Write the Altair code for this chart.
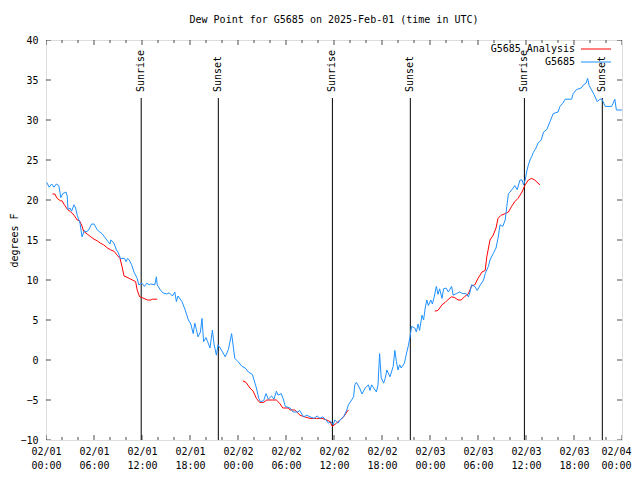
import altair as alt
import pandas as pd

FONT = "DejaVu Sans Mono"

# Observations G5685 (hours since 2025-02-01 00:00 UTC, dew point degF)
obs_hours = [0.1, 0.4, 0.7, 1.0, 1.3, 1.6, 1.75, 1.85, 2.1, 2.5, 2.65, 2.75, 3.0, 3.2, 3.5, 3.7, 3.9,
             4.25, 4.5, 4.8, 5.0, 5.3, 5.7, 6.0, 6.4, 6.7, 7.0, 7.3, 7.75, 8.0, 8.1, 8.5, 8.8, 9.0,
             9.3, 9.8, 10.0, 10.2, 10.4, 10.7, 11.0, 11.4, 11.6, 12.0, 12.3, 12.6, 12.9, 13.1, 13.6,
             13.8, 13.9, 14.3, 14.6, 15.1, 15.4, 15.8, 16.1, 16.3, 16.5, 17.0, 17.4, 17.8, 18.1, 18.4,
             18.6, 18.8, 19.0, 19.3, 19.5, 19.7, 20.0, 20.2, 20.5, 20.8, 21.0, 21.3, 21.5, 21.9, 22.4,
             22.8, 23.2, 23.6, 24.0, 24.5, 24.9, 25.3, 25.8, 26.3, 26.6, 26.8, 27.2, 27.5, 27.8, 28.2,
             28.5, 28.8, 29.0, 29.4, 29.7, 29.9, 30.5, 30.9, 31.5, 31.7, 32.2, 32.6, 33.0, 33.5, 33.9,
             34.25, 34.6, 35.0, 35.3, 35.6, 35.9, 36.1, 36.5, 36.75, 37.2, 37.6, 37.8, 38.2, 38.45,
             38.6, 38.8, 39.2, 39.5, 39.9, 40.3, 40.5, 40.7, 40.9, 41.3, 41.5, 41.7, 41.9, 42.2, 42.4,
             42.6, 43.0, 43.4, 43.6, 43.8, 44.0, 44.2, 44.4, 44.8, 45.1, 45.3, 45.5, 45.7, 46.1, 46.3,
             46.5, 46.7, 47.0, 47.2, 47.4, 47.6, 47.8, 48.1, 48.3, 48.5, 48.8, 49.0, 49.2, 49.5, 49.7,
             50.0, 50.3, 50.7, 50.9, 51.3, 51.7, 52.1, 52.5, 52.8, 53.0, 53.2, 53.6, 53.9, 54.3, 54.7,
             54.9, 55.3, 55.5, 55.9, 56.25, 56.5, 56.75, 57.1, 57.4, 57.6, 57.8, 58.0, 58.4, 58.6,
             58.9, 59.25, 59.5, 59.7, 59.9, 60.1, 60.3, 60.5, 60.7, 60.9, 61.2, 61.5, 61.9, 62.2,
             62.6, 63.0, 63.4, 64.0, 64.25, 64.6, 64.9, 65.7, 65.9, 66.3, 66.9, 67.2, 67.5, 67.7,
             67.9, 68.2, 68.5, 68.9, 69.25, 69.5, 69.9, 70.7, 70.9, 71.1, 71.3, 71.75, 72.0]
obs_vals = [22.2, 21.6, 22.0, 21.6, 22.0, 21.8, 20.9, 20.3, 20.8, 21.0, 20.5, 18.8, 19.0, 18.6, 19.4,
            19.0, 18.1, 17.1, 15.4, 16.2, 16.0, 16.2, 17.0, 17.0, 16.3, 16.0, 15.8, 15.4, 14.8, 14.5,
            15.0, 14.6, 13.75, 13.5, 12.7, 12.7, 12.3, 12.7, 12.5, 11.9, 11.0, 10.2, 9.4, 9.6, 9.2,
            9.6, 9.4, 9.5, 9.4, 10.4, 9.4, 8.75, 8.4, 8.25, 8.4, 8.0, 8.5, 7.3, 8.0, 7.3, 6.25, 5.0,
            4.5, 3.3, 4.6, 3.8, 2.9, 3.5, 5.2, 2.3, 2.8, 2.3, 1.5, 3.75, 2.0, 0.6, 1.9, 1.3, 0.4, 1.3,
            3.3, 0.2, -0.2, -0.8, -1.0, -1.5, -1.8, -3.5, -4.8, -5.2, -5.1, -4.2, -4.9, -4.5, -4.9,
            -3.9, -4.4, -4.2, -5.0, -5.8, -6.0, -6.5, -6.5, -6.3, -7.1, -6.9, -7.1, -7.3, -7.0, -7.3,
            -7.1, -7.5, -7.9, -7.7, -8.1, -7.5, -7.9, -7.5, -7.1, -6.25, -5.6, -5.0, -4.6, -3.1, -2.8,
            -3.5, -4.25, -3.5, -3.1, -3.8, -3.1, -3.4, -4.0, -3.1, 0.8, -2.2, -2.9, -2.3, -1.25, -2.1,
            -0.8, 1.2, -0.2, -1.25, -0.6, -1.0, -0.4, 1.0, 1.8, 2.9, 4.2, 4.0, 3.5, 4.5, 3.7, 5.6, 5.0,
            6.5, 7.5, 6.8, 7.5, 7.0, 7.8, 9.2, 8.2, 8.9, 7.7, 8.9, 9.0, 8.5, 9.2, 8.1, 8.3, 8.5, 8.3,
            8.3, 7.9, 8.5, 9.4, 9.2, 8.7, 9.4, 10.0, 10.8, 11.7, 12.5, 13.3, 14.0, 15.2, 16.9, 16.7,
            17.5, 19.2, 20.8, 21.0, 21.5, 21.8, 21.3, 22.5, 22.5, 21.9, 22.5, 23.6, 24.4, 25.0, 25.4,
            25.9, 26.4, 27.1, 27.5, 28.5, 28.8, 29.8, 30.8, 31.0, 31.7, 32.1, 32.6, 32.6, 33.3, 33.8,
            34.0, 34.4, 34.6, 35.2, 34.3, 33.75, 33.2, 32.3, 32.6, 32.6, 31.7, 31.7, 32.1, 32.6,
            31.25, 31.25, 31.25]

# Analysis G5685 (three separate runs)
ana1_hours = [0.8, 1.1, 1.4, 1.8, 2.0, 2.3, 2.7, 3.0, 3.5, 3.9, 4.2, 4.5, 4.7, 5.2, 5.6, 6.0, 6.4, 6.8,
              7.2, 7.7, 8.1, 8.5, 8.9, 9.25, 9.5, 9.75, 10.0, 10.4, 10.8, 11.2, 11.4, 11.7, 12.0, 12.7,
              13.1, 13.3, 13.9]
ana1_vals = [20.75, 20.75, 20.2, 19.9, 19.9, 19.4, 18.8, 18.6, 18.1, 17.5, 17.4, 16.75, 16.1, 15.7,
             15.4, 15.1, 14.9, 14.6, 14.4, 14.0, 13.75, 13.6, 13.1, 12.7, 11.7, 10.5, 10.4, 10.2, 10.0,
             9.8, 8.75, 7.9, 7.8, 7.5, 7.5, 7.6, 7.6]
ana2_hours = [24.6, 25.0, 25.5, 25.9, 26.3, 26.7, 27.2, 27.6, 28.8, 29.2, 29.6, 30.3, 30.5, 31.1, 31.75,
              32.3, 33.0, 33.8, 34.5, 35.1, 35.5, 35.8, 36.3, 36.75, 37.2, 37.6, 37.8]
ana2_vals = [-2.6, -2.8, -3.5, -3.9, -4.8, -5.3, -5.3, -5.0, -5.0, -5.4, -6.0, -6.0, -6.25, -6.25, -6.9,
             -7.1, -7.3, -7.3, -7.3, -7.5, -7.7, -8.3, -7.9, -7.5, -7.1, -6.5, -6.25]
ana3_hours = [48.6, 49.0, 49.5, 49.9, 50.3, 50.7, 51.1, 51.5, 51.9, 52.3, 52.8, 53.2, 53.6, 54.0, 54.5,
              54.9, 55.1, 55.5, 55.9, 56.25, 56.5, 56.9, 57.4, 57.8, 58.2, 58.6, 59.0, 59.5, 59.9,
              60.3, 60.7, 61.1, 61.5, 61.75]
ana3_vals = [6.1, 6.2, 6.9, 7.2, 7.6, 7.9, 7.8, 7.5, 7.5, 7.9, 8.3, 9.25, 9.4, 10.2, 11.0, 11.2, 12.9,
             15.0, 15.6, 16.5, 17.7, 18.1, 18.3, 18.5, 19.2, 19.8, 20.2, 21.0, 21.9, 22.5, 22.7, 22.5,
             22.1, 21.9]

sun_hours = [11.9, 21.54, 35.8, 45.54, 59.8, 69.54]
sun_labels = ["Sunrise", "Sunset", "Sunrise", "Sunset", "Sunrise", "Sunset"]

x_major = [0, 6, 12, 18, 24, 30, 36, 42, 48, 54, 60, 66, 72]
x_minor = [h for h in range(0, 73, 2) if h % 6 != 0]
y_major = [-10, -5, 0, 5, 10, 15, 20, 25, 30, 35, 40]

W, H = 576, 400

obs_df = pd.DataFrame({"h": obs_hours, "v": obs_vals})
ana_df = pd.concat([
    pd.DataFrame({"h": ana1_hours, "v": ana1_vals, "seg": 1}),
    pd.DataFrame({"h": ana2_hours, "v": ana2_vals, "seg": 2}),
    pd.DataFrame({"h": ana3_hours, "v": ana3_vals, "seg": 3}),
])
sun_df = pd.DataFrame({"h": sun_hours, "label": sun_labels})

xs = alt.Scale(domain=[0, 72], nice=False, zero=False)
ys = alt.Scale(domain=[-10, 40], nice=False, zero=False)

X_AXIS = alt.Axis(
    values=x_major, title=None, domain=False, ticks=False, tickSize=0, grid=False,
    labelExpr="['02/0' + (1 + floor(datum.value / 24)), (datum.value % 24 < 10 ? '0' : '') + (datum.value % 24) + ':00']",
    labelFont=FONT, labelFontSize=10, labelColor="black", labelPadding=6, labelLineHeight=14,
    labelFlush=False, labelOverlap=False, labelBound=False,
    labelOffset={"condition": {"test": "datum.value == 72", "value": -6}, "value": 0},
)
Y_AXIS = alt.Axis(
    values=y_major, title="degrees F", domain=False, ticks=False, tickSize=0, grid=False,
    labelFont=FONT, labelFontSize=10, labelColor="black", labelPadding=8,
    labelFlush=False, labelOverlap=False, labelBound=False,
    titleFont=FONT, titleFontSize=10, titleFontWeight="normal", titleColor="black",
    titleX=-32, titleY=200, titleAlign="center", titleBaseline="middle", titleAngle=270,
)


def X(field="h:Q"):
    return alt.X(field, scale=xs, axis=X_AXIS)


def Y(field="v:Q"):
    return alt.Y(field, scale=ys, axis=Y_AXIS)


sun_rules = alt.Chart(sun_df).mark_rule(color="black", strokeWidth=1).encode(
    x=X(), y=alt.value(58), y2=alt.value(H))
sun_text = alt.Chart(sun_df).mark_text(
    angle=270, align="left", baseline="middle", font=FONT, fontSize=10, color="black"
).encode(x=X(), y=alt.value(52), text="label:N")

ana_line = alt.Chart(ana_df).mark_line(color="#ff0000", strokeWidth=1).encode(
    x=X(), y=Y(), detail="seg:N", order="h:Q")
obs_line = alt.Chart(obs_df).mark_line(color="#1e90ff", strokeWidth=1).encode(
    x=X(), y=Y(), order="h:Q")

xmaj_df = pd.DataFrame({"h": x_major})
xmin_df = pd.DataFrame({"h": x_minor})
ymaj_df = pd.DataFrame({"v": y_major})

tick_layers = []
for yy in (0, H):
    tick_layers.append(alt.Chart(xmaj_df).mark_tick(color="black", size=10, thickness=1, clip=True)
                       .encode(x=X(), y=alt.value(yy)))
    tick_layers.append(alt.Chart(xmin_df).mark_tick(color="black", size=6, thickness=1, clip=True)
                       .encode(x=X(), y=alt.value(yy)))
for xx in (0, W):
    tick_layers.append(alt.Chart(ymaj_df).mark_tick(color="black", size=10, thickness=1, clip=True)
                       .encode(y=Y(), x=alt.value(xx)))

leg_items = [("G5685 Analysis", "#ff0000", 9), ("G5685", "#1e90ff", 22)]
leg_layers = []
for name, col, yy in leg_items:
    d = pd.DataFrame({"t": [name]})
    leg_layers.append(alt.Chart(d).mark_text(align="right", baseline="middle", font=FONT,
                                             fontSize=10, color="black")
                      .encode(x=alt.value(529), y=alt.value(yy), text="t:N"))
    leg_layers.append(alt.Chart(d).mark_rule(color=col, strokeWidth=1)
                      .encode(x=alt.value(535), x2=alt.value(565), y=alt.value(yy)))

chart = alt.layer(
    sun_rules, sun_text, ana_line, obs_line, *tick_layers, *leg_layers
).properties(
    width=W, height=H,
    title=alt.TitleParams("Dew Point for G5685 on 2025-Feb-01 (time in UTC)", font=FONT,
                          fontSize=10, fontWeight="normal", color="black", anchor="middle",
                          offset=10),
    autosize=alt.AutoSizeParams(type="none"),
    padding={"left": 38, "top": 32, "right": 10, "bottom": 32},
).configure_view(
    stroke="black", strokeWidth=1
).configure(background="white")

chart.save("out.html", embed_options={"renderer": "svg", "actions": False})
